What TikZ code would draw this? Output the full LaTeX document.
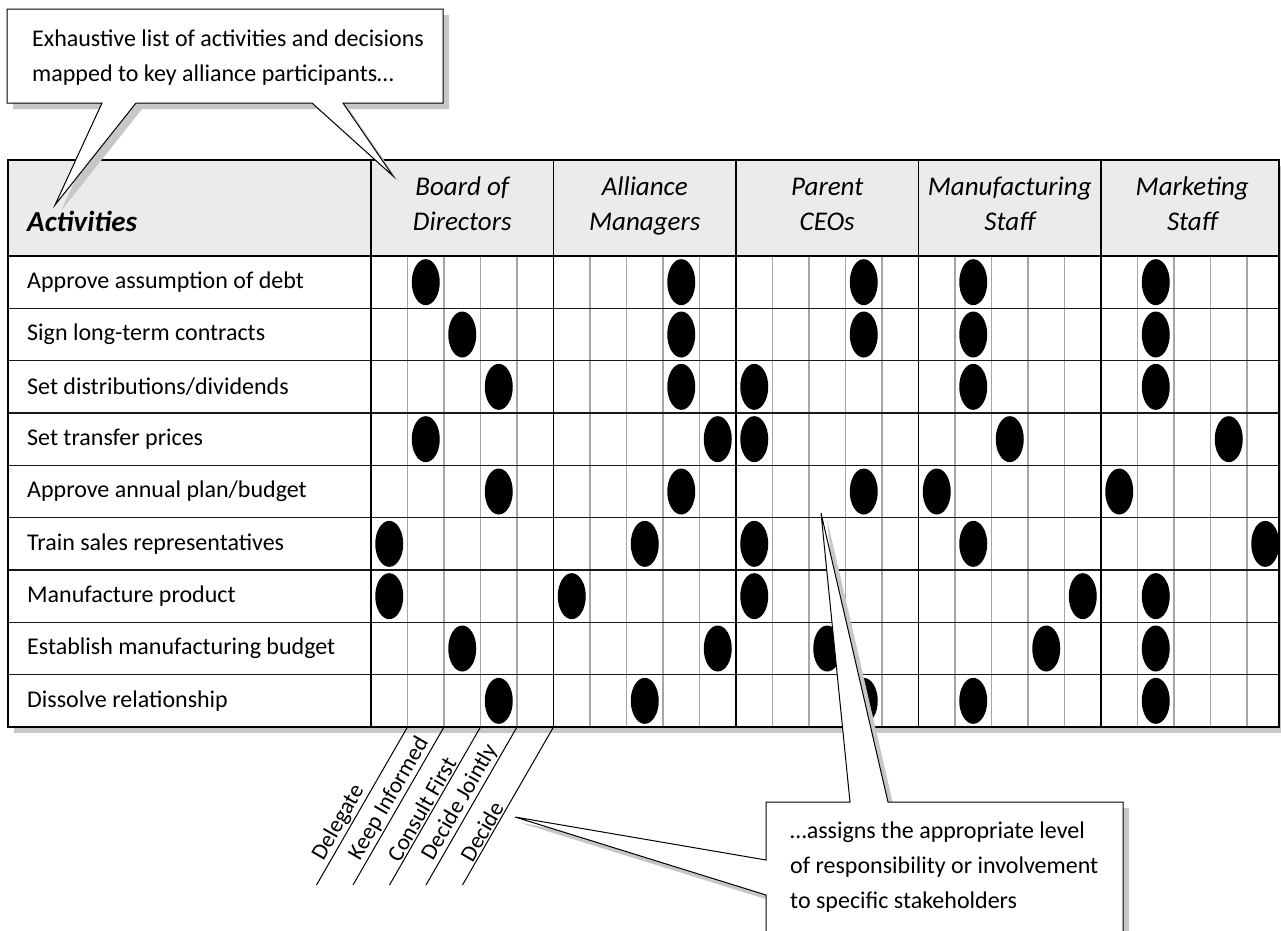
\documentclass[tikz,border=0pt]{standalone}
\usepackage{fontspec}
\setmainfont{Carlito}
\usetikzlibrary{shapes.geometric}
\begin{document}
\begin{tikzpicture}[x=1bp,y=-1bp,
  txt/.style={font=\fontsize{24bp}{28bp}\selectfont, inner sep=0pt},
  hdr/.style={font=\fontsize{27bp}{35bp}\selectfont\itshape, align=center, inner sep=0pt},
  dlab/.style={font=\fontsize{23bp}{27bp}\selectfont, inner sep=1.5bp},
  dot/.style={ellipse, fill=black, minimum width=28bp, minimum height=46bp, inner sep=0pt},
  sub/.style={draw=black!35, line width=1.3bp},
  rowline/.style={draw=black!90, line width=1.3bp},
  grpline/.style={draw=black, line width=1.8bp},
  shade/.style={fill=black!22},
  callout/.style={fill=white, draw=black, line width=1bp, line join=miter},
]
\useasboundingbox (0,0) rectangle (1281,931);
\clip (0,0) rectangle (1281,931);
% ---------- table ----------
\fill[shade] (14,166) rectangle (1290,733);
\fill[white] (8,160) rectangle (1279,727);
\fill[black!8] (8,160) rectangle (1279,256);
\foreach \g in {0,...,4}
  \foreach \k in {1,...,4}
    \draw[sub] ({371+182.5*\g+36.5*\k},256) -- ({371+182.5*\g+36.5*\k},727);
\foreach \r in {1,...,8}
  \draw[rowline] (8,{256+52.333*\r}) -- (1279,{256+52.333*\r});
\draw[line width=1.3bp] (8,256) -- (1279,256);
\foreach \g in {0,...,4}
  \draw[grpline] ({371+182.5*\g},160) -- ({371+182.5*\g},727);
\draw[line width=1.5bp] (8,160) rectangle (1279,727);
% header texts
\node[txt, font=\fontsize{29bp}{30bp}\selectfont\bfseries\itshape, anchor=base west] (acth) at (27,231) {Activities};
\foreach \t/\u [count=\g from 0] in {Board of/Directors, Alliance/Managers, Parent/CEOs, Manufacturing/Staff, Marketing/Staff}
  \node[hdr] (grp\g) at ({371+182.5*\g+91.25},206) {\strut\t\\\strut\u};
% activities
\foreach \t [count=\r] in {Approve assumption of debt, Sign long-term contracts, Set distributions/dividends, Set transfer prices, Approve annual plan/budget, Train sales representatives, Manufacture product, Establish manufacturing budget, Dissolve relationship}
  \node[txt, anchor=west] (act\r) at (27,{256+52.333*(\r-0.5)}) {\t};
% dots
\foreach \r/\pa/\pb/\pc/\pd/\pe in {1/1/3/3/1/1, 2/2/3/3/1/1, 3/3/3/0/1/1, 4/1/4/0/2/3, 5/3/3/3/0/0, 6/0/2/0/1/4, 7/0/0/0/4/1, 8/2/4/2/3/1, 9/3/2/3/1/1}
  \foreach \p [count=\g from 0] in {\pa,\pb,\pc,\pd,\pe}
    \node[dot] (dot-\r-\g) at ({371+182.5*\g+36.5*\p+18.25},{256+52.333*(\r-0.5)}) {};
% ---------- level labels ----------
\foreach \t [count=\i from 0] in {Delegate, Keep Informed, Consult First, Decide Jointly, Decide} {
  \coordinate (lt\i) at ({407.5+36.5*\i},727);
  \coordinate (lb\i) at ({407.5+36.5*\i-91},885);
  \draw[line width=1bp] (lb\i) -- (lt\i) node[dlab, pos=0.12, sloped, anchor=south west] (lev\i) {\t};
}
% ---------- top callout ----------
\fill[shade, xshift=6bp, yshift=-6bp] (7,9) -- (443,9) -- (443,103) -- (343,103) -- (393,176) -- (312,103) -- (136,103) -- (55,205) -- (102,103) -- (7,103) -- cycle;
\draw[callout] (7,9) -- (443,9) -- (443,103) -- (343,103) -- (393,176) -- (312,103) -- (136,103) -- (55,205) -- (102,103) -- (7,103) -- cycle;
\node[txt, anchor=north west, align=left, font=\fontsize{24bp}{35bp}\selectfont] (c1) at (32,30) {Exhaustive list of activities and decisions\\mapped to key alliance participants\dots};
% ---------- bottom callout ----------
\fill[shade, xshift=6bp, yshift=-6bp] (766,802) -- (850,802) -- (821,513) -- (888,802) -- (1123,802) -- (1123,960) -- (766,960) -- (766,895) -- (515,817) -- (766,860) -- cycle;
\draw[callout] (766,802) -- (850,802) -- (821,513) -- (888,802) -- (1123,802) -- (1123,960) -- (766,960) -- (766,895) -- (515,817) -- (766,860) -- cycle;
\node[txt, anchor=north west, align=left, font=\fontsize{24bp}{35bp}\selectfont] (c2) at (790,822) {\dots assigns the appropriate level\\of responsibility or involvement\\to specific stakeholders};
\end{tikzpicture}
\end{document}
